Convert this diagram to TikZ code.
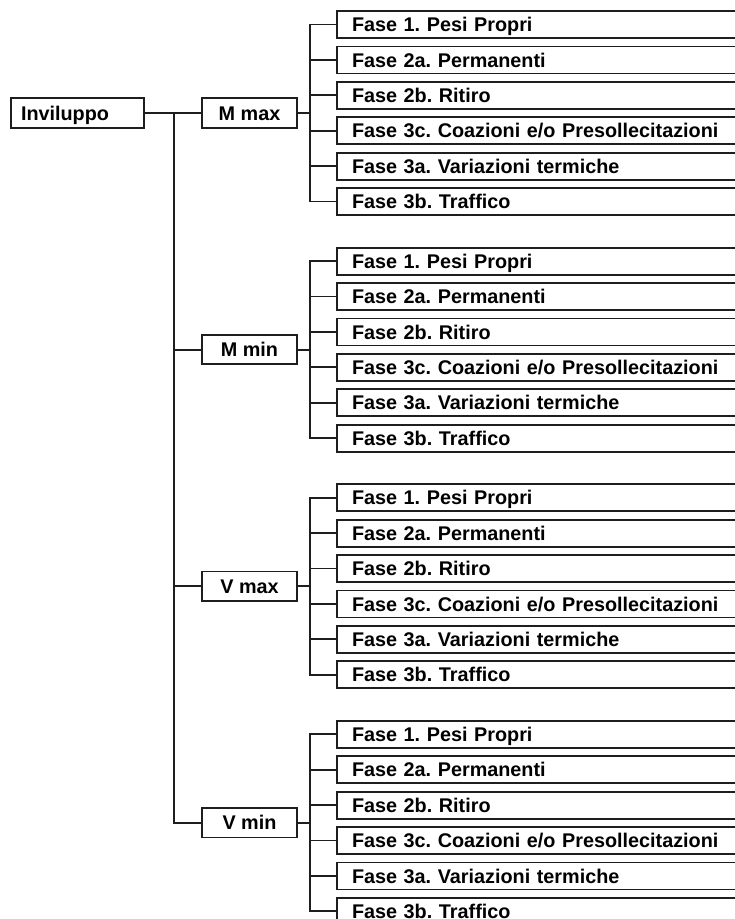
\documentclass[tikz,border=0pt]{standalone}
\usepackage{fontspec}
\setmainfont{Liberation Sans}
\usetikzlibrary{positioning}
\definecolor{framegray}{RGB}{30,30,30}
\frenchspacing

\begin{document}
\begin{tikzpicture}[
    x=1pt,y=-1pt,
    node distance=8.4pt,
    every node/.style={font=\bfseries\fontsize{19.8}{22}\selectfont,outer sep=0pt},
    rootbox/.style={rectangle,draw=framegray,line width=1.8pt,
      text width=113pt,inner xsep=10pt,minimum height=29.5pt,align=left,
      text height=14.2pt,text depth=0pt},
    loadbox/.style={rectangle,draw=framegray,line width=1.8pt,
      minimum width=95pt,minimum height=29.5pt,inner xsep=0pt,align=center,
      text height=14.2pt,text depth=0pt},
    fasebox/.style={rectangle,draw=framegray,line width=1.8pt,
      text width=380pt,inner xsep=15pt,minimum height=27pt,align=left,
      text height=14.2pt,text depth=0pt},
    conn/.style={draw=framegray,line width=1.8pt}
  ]
    \useasboundingbox (0,0) rectangle (735,919);
    \clip (0,0) rectangle (735,919);

    \node[rootbox,anchor=west] (inv) at (11,113) {Inviluppo};
    \node[loadbox] (mmax) at (249.5,113) {M max};
    \node[loadbox] (mmin) at (249.5,349.6) {M min};
    \node[loadbox] (vmax) at (249.5,586.2) {V max};
    \node[loadbox] (vmin) at (249.5,822.8) {V min};

    % M max
    \node[fasebox,anchor=west] (mxpesi) at (337,24.5) {Fase 1. Pesi Propri};
    \node[fasebox,below=of mxpesi] (mxperm) {Fase 2a. Permanenti};
    \node[fasebox,below=of mxperm] (mxritiro) {Fase 2b. Ritiro};
    \node[fasebox,below=of mxritiro] (mxcoaz) {Fase 3c. Coazioni e/o Presollecitazioni};
    \node[fasebox,below=of mxcoaz] (mxterm) {Fase 3a. Variazioni termiche};
    \node[fasebox,below=of mxterm] (mxtraff) {Fase 3b. Traffico};

    % M min
    \node[fasebox,anchor=west] (mnpesi) at (337,261.1) {Fase 1. Pesi Propri};
    \node[fasebox,below=of mnpesi] (mnperm) {Fase 2a. Permanenti};
    \node[fasebox,below=of mnperm] (mnritiro) {Fase 2b. Ritiro};
    \node[fasebox,below=of mnritiro] (mncoaz) {Fase 3c. Coazioni e/o Presollecitazioni};
    \node[fasebox,below=of mncoaz] (mnterm) {Fase 3a. Variazioni termiche};
    \node[fasebox,below=of mnterm] (mntraff) {Fase 3b. Traffico};

    % V max
    \node[fasebox,anchor=west] (vxpesi) at (337,497.7) {Fase 1. Pesi Propri};
    \node[fasebox,below=of vxpesi] (vxperm) {Fase 2a. Permanenti};
    \node[fasebox,below=of vxperm] (vxritiro) {Fase 2b. Ritiro};
    \node[fasebox,below=of vxritiro] (vxcoaz) {Fase 3c. Coazioni e/o Presollecitazioni};
    \node[fasebox,below=of vxcoaz] (vxterm) {Fase 3a. Variazioni termiche};
    \node[fasebox,below=of vxterm] (vxtraff) {Fase 3b. Traffico};

    % V min
    \node[fasebox,anchor=west] (vnpesi) at (337,734.3) {Fase 1. Pesi Propri};
    \node[fasebox,below=of vnpesi] (vnperm) {Fase 2a. Permanenti};
    \node[fasebox,below=of vnperm] (vnritiro) {Fase 2b. Ritiro};
    \node[fasebox,below=of vnritiro] (vncoaz) {Fase 3c. Coazioni e/o Presollecitazioni};
    \node[fasebox,below=of vncoaz] (vnterm) {Fase 3a. Variazioni termiche};
    \node[fasebox,below=of vnterm] (vntraff) {Fase 3b. Traffico};

    % trunk
    \coordinate (trunk) at (174,113);
    \draw[conn] (inv.east) -- (mmax.west);
    \draw[conn] (trunk) |- (mmin.west);
    \draw[conn] (trunk) |- (vmax.west);
    \draw[conn] (trunk) |- (vmin.west);

    % branches
    \coordinate (mxjoin) at (310,113);
    \draw[conn] (mmax.east) -- (mxjoin);
    \draw[conn] (mxjoin) |- (mxpesi.west);
    \draw[conn] (mxjoin) |- (mxperm.west);
    \draw[conn] (mxjoin) |- (mxritiro.west);
    \draw[conn] (mxjoin) |- (mxcoaz.west);
    \draw[conn] (mxjoin) |- (mxterm.west);
    \draw[conn] (mxjoin) |- (mxtraff.west);

    \coordinate (mnjoin) at (310,349.6);
    \draw[conn] (mmin.east) -- (mnjoin);
    \draw[conn] (mnjoin) |- (mnpesi.west);
    \draw[conn] (mnjoin) |- (mnperm.west);
    \draw[conn] (mnjoin) |- (mnritiro.west);
    \draw[conn] (mnjoin) |- (mncoaz.west);
    \draw[conn] (mnjoin) |- (mnterm.west);
    \draw[conn] (mnjoin) |- (mntraff.west);

    \coordinate (vxjoin) at (310,586.2);
    \draw[conn] (vmax.east) -- (vxjoin);
    \draw[conn] (vxjoin) |- (vxpesi.west);
    \draw[conn] (vxjoin) |- (vxperm.west);
    \draw[conn] (vxjoin) |- (vxritiro.west);
    \draw[conn] (vxjoin) |- (vxcoaz.west);
    \draw[conn] (vxjoin) |- (vxterm.west);
    \draw[conn] (vxjoin) |- (vxtraff.west);

    \coordinate (vnjoin) at (310,822.8);
    \draw[conn] (vmin.east) -- (vnjoin);
    \draw[conn] (vnjoin) |- (vnpesi.west);
    \draw[conn] (vnjoin) |- (vnperm.west);
    \draw[conn] (vnjoin) |- (vnritiro.west);
    \draw[conn] (vnjoin) |- (vncoaz.west);
    \draw[conn] (vnjoin) |- (vnterm.west);
    \draw[conn] (vnjoin) |- (vntraff.west);
  \end{tikzpicture}
\end{document}
